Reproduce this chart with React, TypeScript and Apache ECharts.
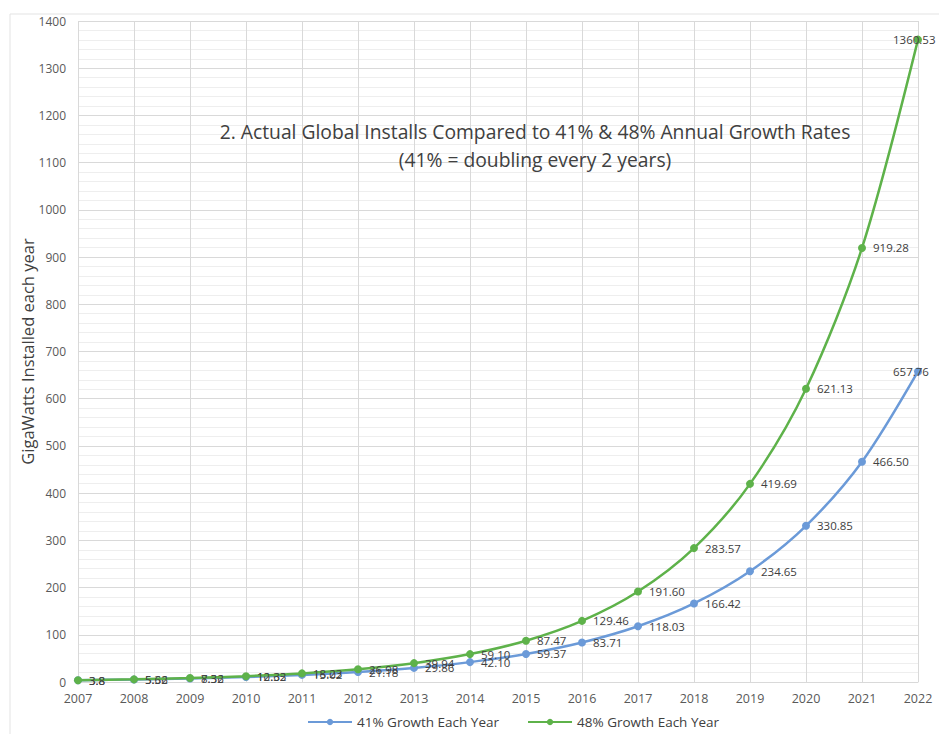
import React, { useEffect, useRef } from "react";
import * as echarts from "echarts";

const years = ["2007","2008","2009","2010","2011","2012","2013","2014","2015","2016","2017","2018","2019","2020","2021","2022"];
const growth41 = [3.8, 5.36, 7.56, 10.65, 15.02, 21.18, 29.86, 42.10, 59.37, 83.71, 118.03, 166.42, 234.65, 330.85, 466.50, 657.76];
const growth48 = [3.8, 5.62, 8.32, 12.32, 18.23, 26.98, 39.94, 59.10, 87.47, 129.46, 191.60, 283.57, 419.69, 621.13, 919.28, 1360.53];
const seriesNames = ["41% Growth Each Year", "48% Growth Each Year"];
const titleLines = ["2. Actual Global Installs Compared to 41% & 48% Annual Growth Rates", "(41% = doubling every 2 years)"];
const yAxisName = "GigaWatts Installed each year";

const FONT = "'Open Sans', 'Noto Sans', sans-serif";

function fmt(v: number, i: number) {
  return i === 0 ? String(v) : v.toFixed(2);
}

function buildData(arr: number[]) {
  return arr.map((v, i) => {
    if (i === arr.length - 1) {
      return { value: v, label: { offset: [-36, 0] } };
    }
    return v;
  });
}

export default function App() {
  const ref = useRef<HTMLDivElement>(null);
  useEffect(() => {
    if (!ref.current) return;
    const chart = echarts.init(ref.current, null, { renderer: "svg" });
    const labelBase = {
      show: true,
      position: "right",
      distance: 7,
      color: "#404040",
      fontSize: 11.5,
      fontFamily: FONT,
    };
    chart.setOption({
      animation: false,
      textStyle: { fontFamily: FONT },
      title: {
        text: titleLines.join("\n"),
        left: 530,
        top: 112,
        textAlign: "center",
        textStyle: { fontSize: 19.3, fontWeight: "normal", color: "#404040", lineHeight: 28, fontFamily: FONT },
      },
      graphic: [
        {
          type: "rect",
          shape: { x: 10, y: 14, width: 940, height: 740 },
          style: { fill: "none", stroke: "#e3e3e3", lineWidth: 1 },
          silent: true,
        },
      ],
      legend: {
        bottom: 0,
        left: 302,
        itemWidth: 44,
        itemHeight: 8,
        itemGap: 28,
        textStyle: { fontSize: 13.5, color: "#404040", fontFamily: FONT },
        data: seriesNames,
      },
      grid: { left: 78, right: 21, top: 21, bottom: 52, containLabel: false },
      xAxis: {
        type: "category",
        data: years,
        boundaryGap: false,
        axisLine: { show: true, lineStyle: { color: "#d9d9d9" } },
        axisTick: { show: false },
        axisLabel: { color: "#595959", fontSize: 12.5, margin: 10, fontFamily: FONT },
        splitLine: { show: true, lineStyle: { color: "#d9d9d9" } },
      },
      yAxis: {
        type: "value",
        min: 0,
        max: 1400,
        interval: 100,
        name: yAxisName,
        nameLocation: "middle",
        nameGap: 42,
        nameMoveOverlap: false,
        nameTextStyle: { fontSize: 16.5, color: "#404040", fontFamily: FONT },
        axisLine: { show: false },
        axisTick: { show: false },
        axisLabel: { color: "#595959", fontSize: 12, margin: 12, fontFamily: FONT, formatter: (v: number) => String(v) },
        splitLine: { show: true, lineStyle: { color: "#d9d9d9" } },
        minorTick: { show: false, splitNumber: 5 },
        minorSplitLine: { show: true, lineStyle: { color: "#eeeeee" } },
      },
      series: [
        {
          name: seriesNames[0],
          type: "line",
          smooth: 0.3,
          data: buildData(growth41),
          symbol: "circle",
          symbolSize: 8,
          itemStyle: { color: "#6b9ad8" },
          lineStyle: { color: "#6b9ad8", width: 2.5 },
          label: { ...labelBase, formatter: (p: any) => fmt(p.value, p.dataIndex) },
          z: 2,
        },
        {
          name: seriesNames[1],
          type: "line",
          smooth: 0.3,
          data: buildData(growth48),
          symbol: "circle",
          symbolSize: 8,
          itemStyle: { color: "#5eb24a" },
          lineStyle: { color: "#5eb24a", width: 2.5 },
          label: { ...labelBase, formatter: (p: any) => fmt(p.value, p.dataIndex) },
          z: 3,
        },
      ],
    });
    return () => chart.dispose();
  }, []);
  return <div ref={ref} style={{ width: 939, height: 734, position: "absolute", left: 0, top: 0, background: "#fff" }} />;
}
